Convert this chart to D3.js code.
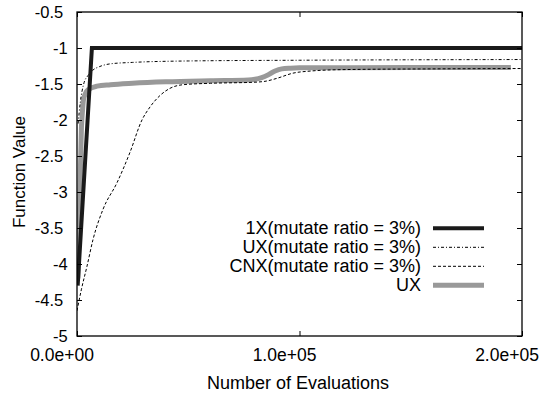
<!DOCTYPE html>
<html><head><meta charset="utf-8">
<script src="https://cdn.jsdelivr.net/npm/d3@7"></script>
<style>
body{margin:0;background:#fff;}
text{font-family:"Liberation Sans",Arial,sans-serif;fill:#000;}
</style></head>
<body><svg id="c" width="542" height="396"></svg>
<script>
// ---- data ----
const xTicks = [0, 100000, 200000];
const xTickLabels = ["0.0e+00", "1.0e+05", "2.0e+05"];
const yTicks = [-5, -4.5, -4, -3.5, -3, -2.5, -2, -1.5, -1, -0.5];
const yTickLabels = ["-5", "-4.5", "-4", "-3.5", "-3", "-2.5", "-2", "-1.5", "-1", "-0.5"];
const seriesNames = ["1X(mutate ratio = 3%)", "UX(mutate ratio = 3%)", "CNX(mutate ratio = 3%)", "UX"];

const x1X = [300, 6700, 200000];
const y1X = [-4.3, -1, -1];

const xUXm = [500, 1500, 3000, 5000, 7000, 10000, 15000, 25000, 50000, 100000, 200000];
const yUXm = [-2.05, -1.75, -1.5, -1.38, -1.31, -1.26, -1.22, -1.2, -1.18, -1.17, -1.16];

const xCNX = [0, 2000, 4500, 7200, 11700, 18000, 23800, 29200, 32800, 37300, 41800, 47600, 60000, 80000, 85000, 90000, 97000, 105000, 120000, 160000, 200000];
const yCNX = [-4.65, -4.35, -4.03, -3.66, -3.24, -2.87, -2.45, -2.0, -1.82, -1.66, -1.56, -1.51, -1.49, -1.475, -1.46, -1.42, -1.35, -1.32, -1.3, -1.29, -1.285];

const xUX = [400, 1300, 2000, 2400, 2900, 3800, 5000, 9000, 15000, 25000, 40000, 60000, 77000, 80000, 83000, 86000, 89000, 92000, 96000, 100000, 150000, 195000];
const yUX = [-4.2, -3, -2.1, -1.9, -1.72, -1.63, -1.58, -1.53, -1.51, -1.49, -1.47, -1.455, -1.445, -1.435, -1.41, -1.37, -1.32, -1.29, -1.28, -1.275, -1.272, -1.27];

// ---- layout ----
const L = 77, R = 522, T = 12, B = 336;
const svg = d3.select("#c");
const x = d3.scaleLinear().domain([0, 200000]).range([L, R]);
const y = d3.scaleLinear().domain([-5, -0.5]).range([B, T]);

const styles = [
  {stroke:"#1a1a1a", width:4, dash:null},
  {stroke:"#000", width:1, dash:"3,2,1,2"},
  {stroke:"#000", width:1, dash:"3,2"},
  {stroke:"#999", width:5, dash:null}
];
const data = [
  d3.zip(x1X, y1X), d3.zip(xUXm, yUXm), d3.zip(xCNX, yCNX), d3.zip(xUX, yUX)
];
const curves = [d3.curveLinear, d3.curveMonotoneX, d3.curveMonotoneX, d3.curveMonotoneX];

svg.append("clipPath").attr("id","cp").append("rect")
  .attr("x",L).attr("y",T).attr("width",R-L).attr("height",B-T);

const g = svg.append("g").attr("clip-path","url(#cp)");
[3,2,1,0].forEach(i=>{
  const line = d3.line().x(d=>x(d[0])).y(d=>y(d[1])).curve(curves[i]);
  g.append("path").attr("d", line(data[i])).attr("fill","none")
    .attr("stroke", styles[i].stroke).attr("stroke-width", styles[i].width)
    .attr("stroke-dasharray", styles[i].dash).attr("stroke-linejoin","miter");
});

// axes (inward ticks, mirrored)
const tl = 5;
svg.append("g").attr("transform",`translate(${L},0)`)
  .call(d3.axisRight(y).tickValues(yTicks).tickSize(tl).tickFormat(""))
  .call(a=>a.select(".domain").remove());
svg.append("g").attr("transform",`translate(${R},0)`)
  .call(d3.axisLeft(y).tickValues(yTicks).tickSize(tl).tickFormat(""))
  .call(a=>a.select(".domain").remove());
svg.append("g").attr("transform",`translate(0,${B})`)
  .call(d3.axisTop(x).tickValues(xTicks).tickSize(tl).tickFormat(""))
  .call(a=>a.select(".domain").remove());
svg.append("g").attr("transform",`translate(0,${T})`)
  .call(d3.axisBottom(x).tickValues(xTicks).tickSize(tl).tickFormat(""))
  .call(a=>a.select(".domain").remove());
svg.selectAll(".tick line").attr("stroke","#000").attr("stroke-width",1);

svg.append("rect").attr("x",L).attr("y",T).attr("width",R-L).attr("height",B-T)
  .attr("fill","none").attr("stroke","#000").attr("stroke-width",1.3);

// tick labels
svg.selectAll(".ylab").data(yTicks).enter().append("text")
  .attr("x",(d,i)=>72 - yTickLabels[i].length*2.2).attr("y",d=>y(d)+5.5)
  .attr("text-anchor","end").attr("font-size",16.5).text((d,i)=>yTickLabels[i]);
svg.selectAll(".xlab").data(xTicks).enter().append("text")
  .attr("x",d=>x(d)-15).attr("y",361)
  .attr("text-anchor","middle").attr("font-size",17.5).text((d,i)=>xTickLabels[i]);

svg.append("text").attr("x",298).attr("y",389).attr("text-anchor","middle")
  .attr("font-size",18).text("Number of Evaluations");
svg.append("text").attr("transform","translate(25,172) rotate(-90)")
  .attr("text-anchor","middle").attr("font-size",17).text("Function Value");

// legend
const legY = [228.3, 247.3, 266.3, 285.3];
seriesNames.forEach((n,i)=>{
  svg.append("text").attr("x",421).attr("y",legY[i]+6).attr("text-anchor","end")
    .attr("font-size",18).text(n);
  svg.append("line").attr("x1",433).attr("x2",484).attr("y1",legY[i]).attr("y2",legY[i])
    .attr("stroke",styles[i].stroke).attr("stroke-width",styles[i].width)
    .attr("stroke-dasharray",styles[i].dash);
});
</script></body></html>
